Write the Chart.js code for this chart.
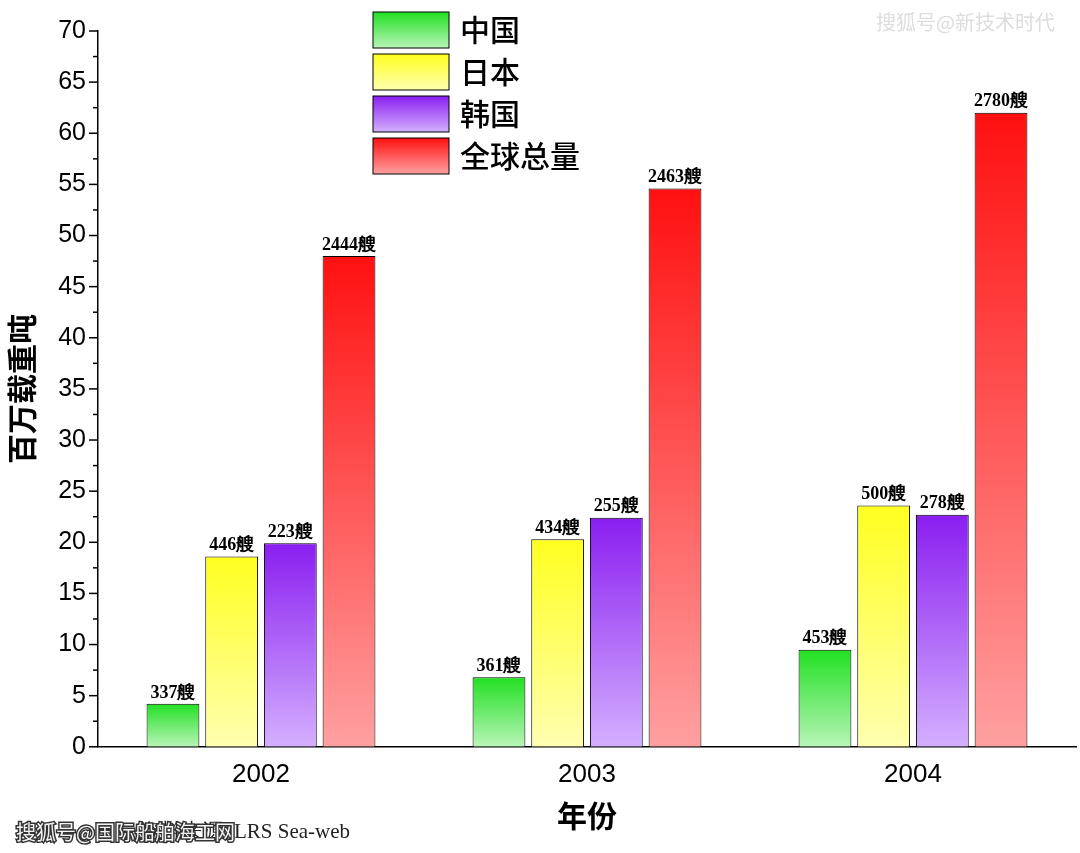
<!DOCTYPE html><html><head><meta charset="utf-8">
<script src="https://cdn.jsdelivr.net/npm/chart.js@4"></script>
<style>html,body{margin:0;background:#fff}</style></head>
<body><canvas id="c" width="1080" height="853"></canvas>
<script>
const years=['2002','2003','2004'];
const seriesNames=['中国','日本','韩国','全球总量'];
const china=[4.2,6.8,9.5];
const japan=[18.6,20.3,23.6];
const korea=[19.9,22.4,22.7];
const world=[48.0,54.6,62.0];
const chinaShips=['337艘','361艘','453艘'];
const japanShips=['446艘','434艘','500艘'];
const koreaShips=['223艘','255艘','278艘'];
const worldShips=['2444艘','2463艘','2780艘'];
const grads=[['#22e022','#b8f5b8'],['#ffff20','#ffffb0'],['#8a1ef0','#d4b0ff'],['#ff1010','#ffa0a0']];
function fill(i){return c=>{const ch=c.chart,a=ch.chartArea;if(!a||c.raw==null)return grads[i][0];
const y=ch.scales.y.getPixelForValue(c.raw);const g=ch.ctx.createLinearGradient(0,y,0,a.bottom);
g.addColorStop(0,grads[i][0]);g.addColorStop(1,grads[i][1]);return g;};}
const vals=[china,japan,korea,world],lbls=[chinaShips,japanShips,koreaShips,worldShips];
const extra={id:'extra',afterDraw(ch){const x=ch.ctx,a=ch.chartArea,ys=ch.scales.y;x.save();
x.strokeStyle='#000';x.lineWidth=1.5;
for(let v=0;v<=70;v+=2.5){const y=ys.getPixelForValue(v);const L=(v%5===0)?9:5;x.beginPath();x.moveTo(a.left,y);x.lineTo(a.left-L,y);x.stroke();}
x.font='bold 18px "Liberation Serif"';x.fillStyle='#000';x.textAlign='center';x.textBaseline='bottom';
ch.data.datasets.forEach((d,i)=>{ch.getDatasetMeta(i).data.forEach((b,j)=>{x.fillText(lbls[i][j],b.x,b.y-2);});});
x.textAlign='left';x.textBaseline='middle';x.font='500 30px "Noto Sans CJK SC"';
seriesNames.forEach((n,i)=>{const top=12+i*42;const g=x.createLinearGradient(0,top,0,top+36);g.addColorStop(0,grads[i][0]);g.addColorStop(1,grads[i][1]);
x.fillStyle=g;x.fillRect(373,top,76,36);x.strokeStyle='#000';x.lineWidth=1;x.strokeRect(373,top,76,36);x.fillStyle='#000';x.fillText(n,460,top+18);});
x.font='20px "Noto Sans CJK SC"';x.fillStyle='#ddd';x.textAlign='right';x.fillText('搜狐号@新技术时代',1055,22);
x.font='21px "Liberation Serif"';x.fillStyle='#222';x.fillText('资料来源: LRS Sea-web',350,832);
x.textAlign='left';x.font='20px "Noto Sans CJK SC"';x.fillStyle='#f4f4f4';x.strokeStyle='#333';x.lineWidth=3;x.strokeText('搜狐号@国际船舶海工网',16,832);x.fillText('搜狐号@国际船舶海工网',16,832);
x.restore();}};
new Chart(document.getElementById('c'),{type:'bar',
data:{labels:years,datasets:vals.map((v,i)=>({label:seriesNames[i],data:v,backgroundColor:fill(i),borderColor:'#000',borderWidth:1,categoryPercentage:0.72,barPercentage:0.9}))},
options:{responsive:false,animation:false,devicePixelRatio:1,
layout:{padding:{top:31,right:4,bottom:15,left:0}},
plugins:{legend:{display:false},tooltip:{enabled:false}},
scales:{x:{grid:{display:false,drawTicks:false},border:{color:'#000',width:1.5},ticks:{padding:12,color:'#000',font:{family:'Liberation Sans',size:26}},
 title:{display:true,text:'年份',color:'#000',font:{family:'Noto Sans CJK SC',size:30,weight:'bold'},padding:{top:-4}}},
 y:{min:0,max:70,ticks:{stepSize:5,color:'#000',padding:12,font:{family:'Liberation Sans',size:25}},grid:{display:false,drawTicks:false},border:{color:'#000',width:1.5},
 title:{display:true,text:'百万载重吨',color:'#000',font:{family:'Noto Sans CJK SC',size:30,weight:'bold'},padding:{bottom:0}},
 afterFit(s){s.width=98;}}}},
plugins:[extra]});
</script>
</body></html>
